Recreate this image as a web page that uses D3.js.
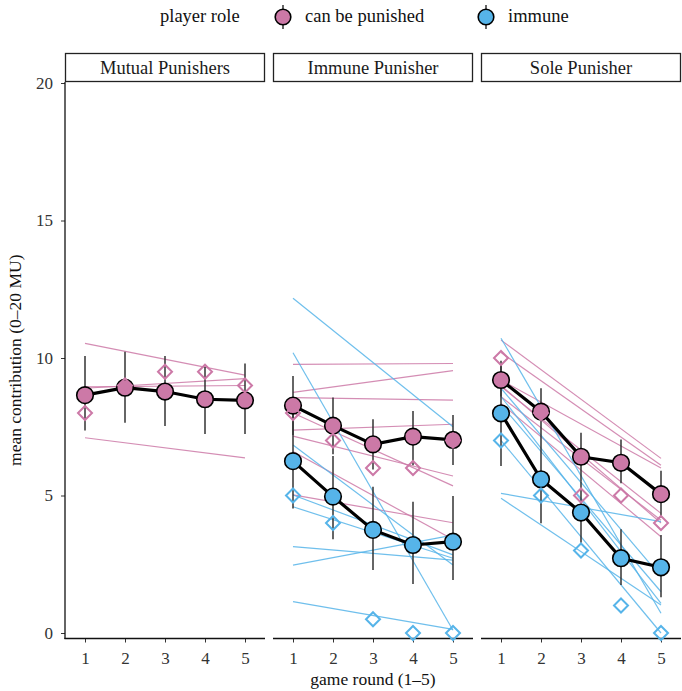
<!DOCTYPE html>
<html><head><meta charset="utf-8">
<script src="https://cdn.jsdelivr.net/npm/d3@7"></script>
<style>body{margin:0;background:#fff}svg{display:block}
svg text{font-family:'Liberation Serif','DejaVu Serif',serif !important}</style>
</head><body>
<script>
// ---------- data ----------
const rounds = [1, 2, 3, 4, 5];
const panels = ["Mutual Punishers", "Immune Punisher", "Sole Punisher"];
const roles = ["can be punished", "immune"];
const roleColors = ["#CC79A7", "#56B4E9"];
const yTicks = [0, 5, 10, 15, 20];

// means per panel (can be punished / immune)
const meanPunished = [
  [8.65, 8.92, 8.78, 8.50, 8.46],
  [8.27, 7.54, 6.86, 7.14, 7.02],
  [9.20, 8.05, 6.41, 6.19, 5.05]
];
const meanImmune = [
  null,
  [6.25, 4.96, 3.75, 3.20, 3.32],
  [7.99, 5.59, 4.38, 2.72, 2.39]
];
// error bars
const loPunished = [
  [7.36, 7.65, 7.53, 7.24, 7.24],
  [7.20, 6.50, 5.95, 6.10, 6.11],
  [8.60, 7.20, 5.50, 5.45, 4.20]
];
const hiPunished = [
  [10.07, 10.23, 10.07, 9.68, 9.80],
  [9.35, 8.56, 7.77, 8.07, 7.93],
  [9.80, 8.90, 7.28, 7.04, 5.90]
];
const loImmune = [
  null,
  [4.53, 3.41, 2.29, 1.78, 1.93],
  [6.07, 3.99, 3.28, 1.75, 1.30]
];
const hiImmune = [
  null,
  [7.97, 6.44, 5.32, 4.77, 4.98],
  [9.90, 7.20, 5.50, 3.77, 3.56]
];
// hollow diamonds
const diaPunished = [
  [8, 9, 9.5, 9.5, 9],
  [8, 7, 6, 6, 7],
  [10, 8, 5, 5, 4]
];
const diaImmune = [
  null,
  [5, 4, 0.5, 0, 0],
  [7, 5, 3, 1, 0]
];
// per-group trend lines: [value at round 1, value at round 5]
const groupPunished = [
  [[10.53, 9.38], [8.90, 9.25], [8.95, 9.00], [7.10, 6.37]],
  [[9.77, 9.80], [8.75, 9.54], [8.56, 8.47], [7.38, 7.59], [7.16, 5.71], [8.00, 5.35], [5.02, 4.01], [6.60, 3.40]],
  [[10.65, 6.35], [10.20, 6.10], [9.20, 6.00], [8.96, 4.35], [8.59, 4.10], [8.35, 3.50], [9.00, 4.00]]
];
const groupImmune = [
  [],
  [[12.17, 7.50], [10.19, 0.10], [6.84, 2.47], [5.02, 2.84], [4.59, 2.72], [3.14, 2.65], [2.47, 3.56], [1.14, 0.13]],
  [[10.72, 0.72], [8.90, 2.05], [8.60, 1.08], [8.30, 1.50], [5.08, 4.05], [4.90, 1.02], [7.00, 0.00]]
];

// ---------- layout ----------
const W = 682, H = 691;
const panelX = [65, 273, 481], panelW = 200;
const yTop = 82, stripTop = 53;
const svg = d3.select("body").append("svg").attr("width", W).attr("height", H);
const y = d3.scaleLinear().domain([0, 20]).range([633, 83]);
const axisY = y(-0.2);

panels.forEach((name, p) => {
  const x = d3.scaleLinear().domain([0.5, 5.5]).range([panelX[p], panelX[p] + panelW]);
  const g = svg.append("g");

  // strip
  g.append("rect").attr("x", panelX[p] + 0.5).attr("y", stripTop + 0.5)
    .attr("width", panelW - 1).attr("height", yTop - stripTop - 1)
    .attr("fill", "#fff").attr("stroke", "#222").attr("stroke-width", 1.3);
  g.append("text").attr("x", panelX[p] + panelW / 2).attr("y", 74)
    .attr("text-anchor", "middle").attr("font-size", 18.5).attr("fill", "#1a1a1a").text(name);

  // bottom axis
  const xa = d3.axisBottom(x).tickValues(rounds).tickSize(4).tickPadding(9).tickFormat(d3.format("d"));
  const ax = g.append("g").attr("transform", `translate(0,${axisY})`).call(xa);
  ax.select(".domain").remove();
  ax.selectAll(".tick line").attr("stroke", "#333").attr("stroke-width", 1);
  ax.selectAll(".tick text").attr("font-size", 17).attr("fill", "#333");
  g.append("line").attr("x1", panelX[p] - (p === 0 ? 0.6 : 0)).attr("x2", panelX[p] + panelW)
    .attr("y1", axisY).attr("y2", axisY).attr("stroke", "#111").attr("stroke-width", 1.3);

  const line = d3.line().x(d => x(d[0])).y(d => y(d[1]));

  // group trend lines
  const gl = [[groupPunished[p], roleColors[0]], [groupImmune[p], roleColors[1]]];
  gl.forEach(([arr, col]) => {
    arr.forEach(v => {
      g.append("path").attr("d", line([[1, v[0]], [5, v[1]]]))
        .attr("fill", "none").attr("stroke", col).attr("stroke-width", 1.2).attr("opacity", 0.85);
    });
  });

  const sets = [
    { mean: meanPunished[p], lo: loPunished[p], hi: hiPunished[p], dia: diaPunished[p], col: roleColors[0] },
    { mean: meanImmune[p], lo: loImmune[p], hi: hiImmune[p], dia: diaImmune[p], col: roleColors[1] }
  ].filter(s => s.mean);

  sets.forEach(s => {
    rounds.forEach((r, i) => {
      g.append("line").attr("x1", x(r)).attr("x2", x(r)).attr("y1", y(s.lo[i])).attr("y2", y(s.hi[i]))
        .attr("stroke", "#333").attr("stroke-width", 1.5);
    });
  });
  sets.forEach(s => {
    g.append("path").attr("d", line(rounds.map((r, i) => [r, s.mean[i]])))
      .attr("fill", "none").attr("stroke", "#000").attr("stroke-width", 3.2);
  });
  sets.forEach(s => {
    rounds.forEach((r, i) => {
      g.append("circle").attr("cx", x(r)).attr("cy", y(s.mean[i])).attr("r", 8.3)
        .attr("fill", s.col).attr("stroke", "#000").attr("stroke-width", 1.6);
    });
  });
  sets.forEach(s => {
    rounds.forEach((r, i) => {
      const cx = x(r), cy = y(s.dia[i]), d = 7;
      g.append("path").attr("d", `M${cx},${cy - d}L${cx + d},${cy}L${cx},${cy + d}L${cx - d},${cy}Z`)
        .attr("fill", "none").attr("stroke", s.col).attr("stroke-width", 2);
    });
  });
});

// y axis
const ya = d3.axisLeft(y).tickValues(yTicks).tickSize(4).tickPadding(8);
const yg = svg.append("g").attr("transform", `translate(${panelX[0]},0)`).call(ya);
yg.select(".domain").remove();
yg.selectAll(".tick line").attr("stroke", "#333");
yg.selectAll(".tick text").attr("font-size", 17).attr("fill", "#333");
svg.append("line").attr("x1", panelX[0]).attr("x2", panelX[0]).attr("y1", yTop).attr("y2", axisY + 0.6)
  .attr("stroke", "#111").attr("stroke-width", 1.3);

// axis titles
svg.append("text").attr("transform", `translate(21,${(yTop + axisY) / 2}) rotate(-90)`)
  .attr("text-anchor", "middle").attr("font-size", 17.5).attr("fill", "#111").text("mean contribution (0–20 MU)");
svg.append("text").attr("x", (panelX[0] + panelX[2] + panelW) / 2).attr("y", 685)
  .attr("text-anchor", "middle").attr("font-size", 17.5).attr("fill", "#111").text("game round (1–5)");

// legend
const lg = svg.append("g");
lg.append("text").attr("x", 160).attr("y", 22).attr("font-size", 18.5).attr("fill", "#111").text("player role");
const legendX = [283, 486];
roles.forEach((r, i) => {
  const cx = legendX[i];
  lg.append("line").attr("x1", cx).attr("x2", cx).attr("y1", 5).attr("y2", 29).attr("stroke", "#333").attr("stroke-width", 1.5);
  lg.append("circle").attr("cx", cx).attr("cy", 17).attr("r", 7.8).attr("fill", roleColors[i]).attr("stroke", "#000").attr("stroke-width", 1.6);
  lg.append("text").attr("x", cx + 22).attr("y", 22).attr("font-size", 18.5).attr("fill", "#111").text(r);
});
</script>
</body></html>
